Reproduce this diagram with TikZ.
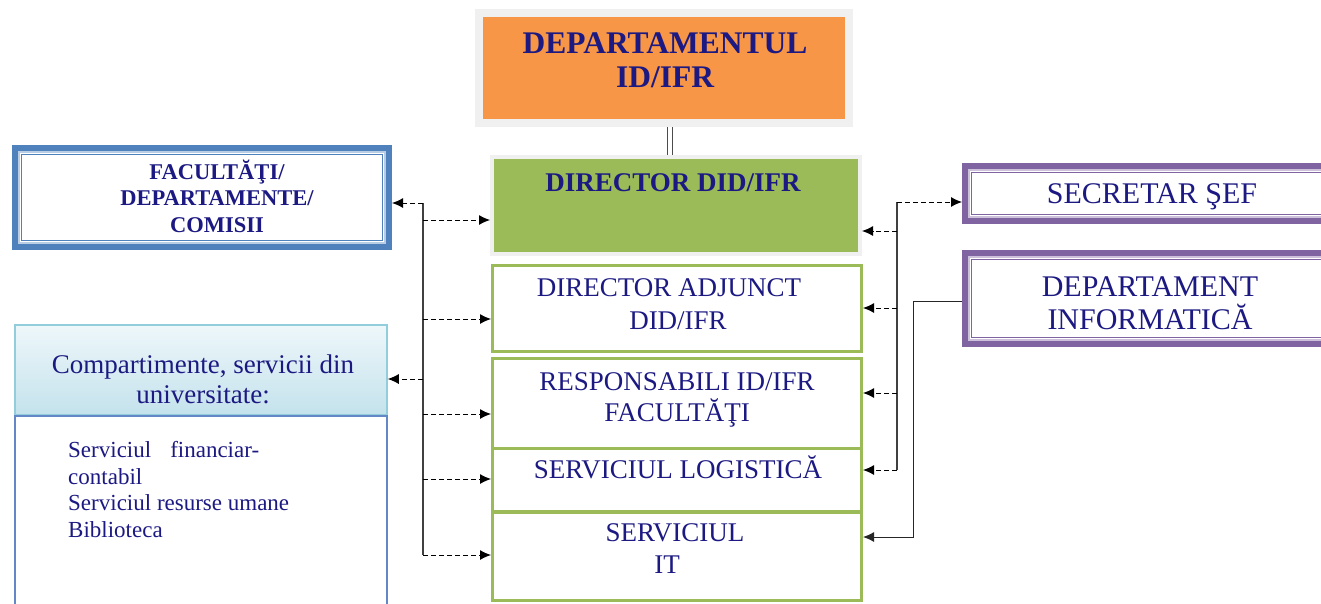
\documentclass[tikz,border=0pt]{standalone}
\usepackage{fontspec}
\setmainfont{Liberation Serif}
\usetikzlibrary{arrows.meta,calc}
\definecolor{navy}{RGB}{28,26,130}
\definecolor{orangeF}{RGB}{247,150,70}
\definecolor{greenF}{RGB}{155,187,89}
\definecolor{blueF}{RGB}{79,129,189}
\definecolor{lightblueF}{RGB}{185,205,229}
\definecolor{purpleF}{RGB}{128,100,162}
\definecolor{lightpurpleF}{RGB}{204,192,218}
\definecolor{framegray}{RGB}{240,240,240}
\definecolor{headborder}{RGB}{146,205,220}
\definecolor{bodyblue}{RGB}{100,135,200}
\begin{document}
\begin{tikzpicture}[x=1pt,y=-1pt,
  txt/.style={text=navy, align=center, inner sep=0pt},
  box/.style={rectangle, inner sep=0pt},
  gbox/.style={box, draw=greenF, line width=3pt, fill=white, minimum width=369pt},
  pbox/.style={box, draw=purpleF, line width=6pt, fill=white, minimum width=365pt},
  darr/.style={draw=black, line width=1pt, dash pattern=on 5pt off 3pt, -{Latex[length=11pt,width=10pt]}},
  sarr/.style={draw=black!85, line width=1pt, -{Latex[length=11pt,width=10pt]}},
  bus/.style={draw=black!75, line width=1.1pt}]
\useasboundingbox (0,0) rectangle (1321,603);
\fill[white] (0,0) rectangle (1321,603);

% ---- top department box
\node[box, draw=framegray, line width=8pt, fill=orangeF, minimum width=370pt, minimum height=110pt] (dep) at (664,68) {};
\node[txt, font=\bfseries\fontsize{31.5}{34}\selectfont] (depT) at (665,60) {DEPARTAMENTUL\\ID/IFR};

% ---- director
\node[box, draw=framegray, line width=4pt, fill=greenF, minimum width=368pt, minimum height=97pt] (dir) at (676,205.5) {};
\node[txt, font=\bfseries\fontsize{27}{31}\selectfont] (dirT) at (673,183) {DIRECTOR DID/IFR};

\draw[black!70, line width=1.3pt] (dep.south -| 667.5,0) -- (dir.north -| 667.5,0);
\draw[black!70, line width=1.3pt] (dep.south -| 672.5,0) -- (dir.north -| 672.5,0);

% ---- green bordered boxes
\node[gbox, minimum height=86pt] (adj) at (677,308.5) {};
\node[gbox, minimum height=90pt] (resp) at (677,403.5) {};
\node[gbox, minimum height=63pt] (logi) at (677,480) {};
\node[gbox, minimum height=88pt] (it) at (677,556) {};
\node[txt, font=\fontsize{27}{33}\selectfont] (adjT) at (669,304) {DIRECTOR ADJUNCT\\\hspace*{18pt}DID/IFR};
\node[txt, font=\fontsize{27}{31}\selectfont] (respT) at (677,400) {RESPONSABILI ID/IFR\\FACULTĂŢI};
\node[txt, font=\fontsize{27}{31}\selectfont] (logiT) at (678,467) {SERVICIUL LOGISTICĂ};
\node[txt, font=\fontsize{27}{32}\selectfont] (itT) at (675,549) {SERVICIUL\\\hspace*{-16pt}IT};

% ---- left: facultati
\node[box, draw=blueF, line width=6pt, fill=white, minimum width=374pt, minimum height=99pt] (fac) at (202,197.5) {};
\draw[lightblueF, line width=2pt] ($(fac.north west)+(7,7)$) rectangle ($(fac.south east)+(-7,-7)$);
\draw[blueF, line width=1pt] ($(fac.north west)+(9.5,9.5)$) rectangle ($(fac.south east)+(-9.5,-9.5)$);
\node[txt, font=\bfseries\fontsize{22.5}{26.5}\selectfont] (facT) at (217,196) {FACULTĂŢI/\\DEPARTAMENTE/\\COMISII};

% ---- left: compartimente
\node[box, draw=bodyblue, line width=1.5pt, fill=white, minimum width=372pt, minimum height=200pt, anchor=north] (compB) at (201,415) {};
\node[box, draw=headborder, line width=1.5pt, top color={rgb,255:red,238;green,247;blue,250}, bottom color={rgb,255:red,196;green,226;blue,236}, minimum width=372pt, minimum height=90pt] (compH) at (201,370) {};
\draw[bodyblue, line width=1.5pt] (compH.south west) -- (compH.south east);
\node[txt, font=\fontsize{27}{30}\selectfont] (compT) at (203,379) {Compartimente, servicii din\\universitate:};
\node[txt, align=left, anchor=north west, font=\fontsize{23}{26.7}\selectfont] (compL) at (68,441) {Serviciul\hspace{19pt}financiar-\\contabil\\Serviciul resurse umane\\Biblioteca};

% ---- right boxes
\node[pbox, minimum height=55pt] (sec) at (1147.5,193.5) {};
\draw[lightpurpleF, line width=2pt] ($(sec.north west)+(7,7)$) rectangle ($(sec.south east)+(-7,-7)$);
\draw[purpleF, line width=1pt] ($(sec.north west)+(9.5,9.5)$) rectangle ($(sec.south east)+(-9.5,-9.5)$);
\node[txt, font=\fontsize{30}{33}\selectfont] (secT) at (1152,197) {SECRETAR ŞEF};

\node[pbox, minimum height=91pt] (dinf) at (1147.5,298.5) {};
\draw[lightpurpleF, line width=2pt] ($(dinf.north west)+(7,7)$) rectangle ($(dinf.south east)+(-7,-7)$);
\draw[purpleF, line width=1pt] ($(dinf.north west)+(9.5,9.5)$) rectangle ($(dinf.south east)+(-9.5,-9.5)$);
\node[txt, font=\fontsize{30}{33.5}\selectfont] (dinfT) at (1150,303) {DEPARTAMENT\\INFORMATICĂ};

% ---- left connectors
\coordinate (lbT) at (423,203);
\coordinate (lbB) at (423,555);
\draw[bus] (lbT) -- (lbB);
\draw[darr] (lbT) -- (fac.east |- lbT);
\draw[darr] (lbT |- 0,220) -- (dir.west |- 0,220);
\draw[darr] (lbT |- 0,319) -- (adj.west |- 0,319);
\draw[darr] (lbT |- 0,379) -- (compH.east |- 0,379);
\draw[darr] (lbT |- 0,414) -- (resp.west |- 0,414);
\draw[darr] (lbT |- 0,479) -- (logi.west |- 0,479);
\draw[darr] (lbB) -- (it.west |- lbB);

% ---- right connectors
\coordinate (rbT) at (897,202);
\coordinate (rbB) at (897,470);
\draw[bus] (rbT) -- (rbB);
\draw[darr] (rbT) -- (sec.west |- rbT);
\draw[darr] (rbT |- 0,231) -- (dir.east |- 0,231);
\draw[darr] (rbT |- 0,308) -- (adj.east |- 0,308);
\draw[darr] (rbT |- 0,393) -- (resp.east |- 0,393);
\draw[darr] (rbB) -- (logi.east |- rbB);

\coordinate (ri) at (913,537);
\draw[sarr] (dinf.west |- 0,301) -| (ri) -- (it.east |- ri);
\end{tikzpicture}
\end{document}
